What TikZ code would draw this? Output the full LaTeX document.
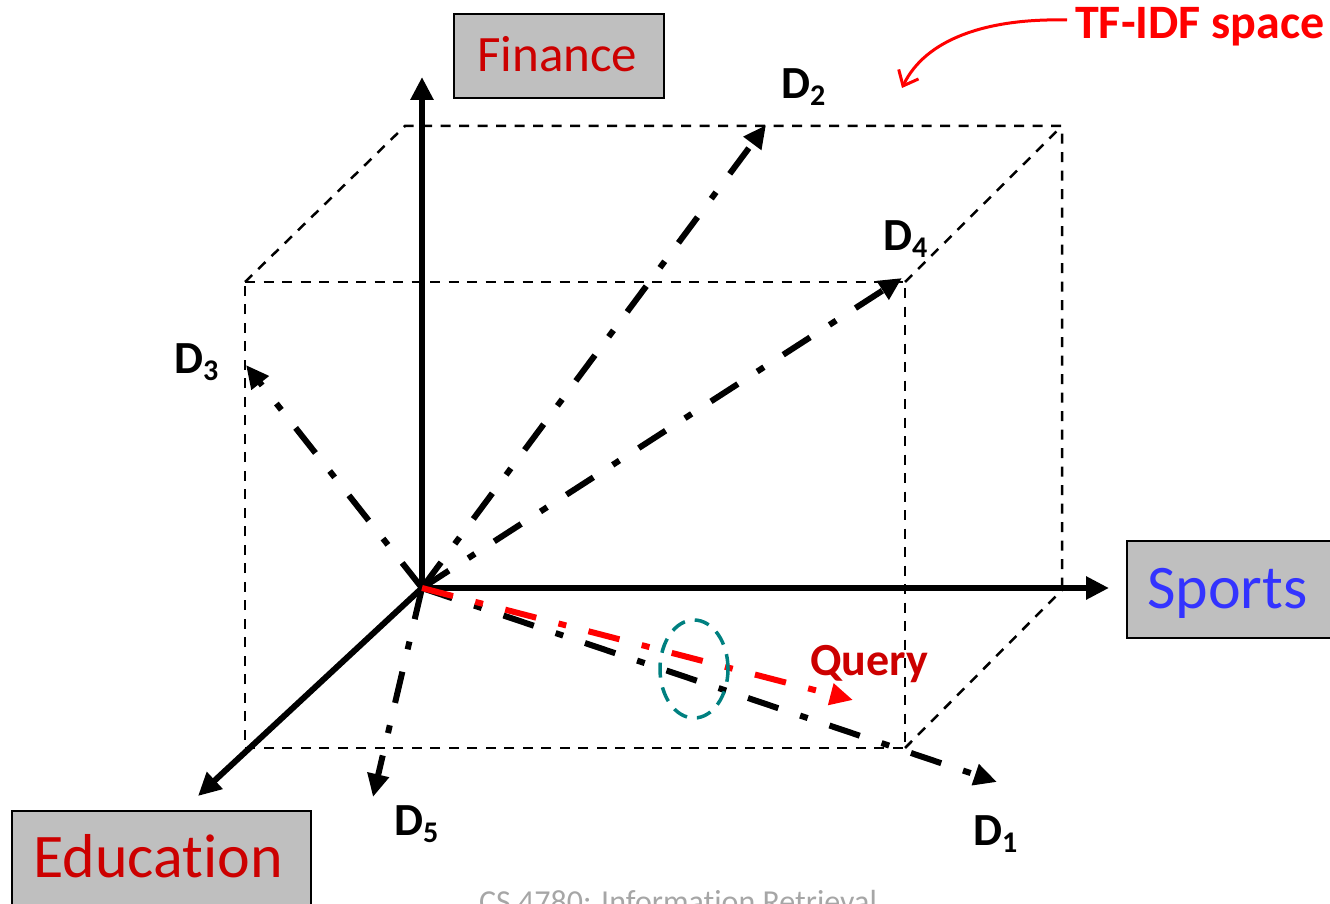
\documentclass[tikz,border=0pt]{standalone}
\usepackage{fontspec}
\setmainfont{Carlito}[Ligatures=NoCommon]
\usetikzlibrary{arrows.meta}
\definecolor{darkred}{RGB}{204,0,0}
\definecolor{tfred}{RGB}{255,0,0}
\definecolor{sportsblue}{RGB}{51,51,255}
\definecolor{boxgray}{RGB}{191,191,191}
\definecolor{footgray}{RGB}{166,166,166}
\definecolor{ellteal}{RGB}{0,128,128}
\newcommand\dlab[1]{D\raisebox{-7pt}{\fontsize{30}{30}\selectfont #1}}
\begin{document}
\begin{tikzpicture}[x=1pt,y=-1pt,
  boxedge/.style={black, line width=2.5pt, dash pattern=on 10pt off 8.5pt},
  axis/.style={line width=6pt, -{Triangle[length=23pt,width=22pt]}},
  vec/.style={line width=6pt, dash pattern=on 32pt off 23pt on 8pt off 23pt, -{Triangle[length=23pt,width=21pt]}},
  catbox/.style={draw=black, line width=2pt, fill=boxgray, inner sep=0pt, anchor=north west},
  txt/.style={inner sep=0pt, anchor=base west},
  dtxt/.style={txt, font=\bfseries\fontsize{46}{46}\selectfont}
]
\useasboundingbox (0,0) rectangle (1330,904);
\clip (0,0) rectangle (1330,904);

% dashed box corners
\coordinate (A) at (245,282);
\coordinate (B) at (905,282);
\coordinate (C) at (905,748);
\coordinate (Dd) at (245,748);
\coordinate (E) at (405,126);
\coordinate (F) at (1062,126);
\coordinate (G) at (1062,590);
\draw[boxedge] (A) -- (B) -- (C) -- (Dd) -- cycle;
\draw[boxedge] (A) -- (E) -- (F) -- (G);
\draw[boxedge] (B) -- (F);
\draw[boxedge] (C) -- (G);

% category boxes
\node[catbox, minimum width=210pt, minimum height=84pt] (finbox) at (453,13) {};
\node[catbox, minimum width=220pt, minimum height=97pt] (spobox) at (1126,540) {};
\node[catbox, minimum width=299pt, minimum height=120pt] (edubox) at (11,810) {};
\node[txt, text=darkred, font=\fontsize{51}{51}\selectfont] (fin) at (477,72) {Finance};
\node[txt, text=sportsblue, font=\fontsize{62}{62}\selectfont] (spo) at (1147,608) {Sports};
\node[txt, text=darkred, font=\fontsize{62}{62}\selectfont] (edu) at (33,877) {Education};

% origin and tips
\coordinate (O) at (422,588);
\coordinate (finT) at (422,77);
\coordinate (spoT) at (1109,588);
\coordinate (eduT) at (198,796);
\coordinate (t1) at (997,782);
\coordinate (t2) at (766,125);
\coordinate (t3) at (246,365);
\coordinate (t4) at (902,278);
\coordinate (t5) at (373,797);
\coordinate (tq) at (853,700);

% axes
\draw[axis] (O) -- (finT);
\draw[axis] (O) -- (spoT);
\draw[axis] (O) -- (eduT);

% document vectors
\draw[vec] (O) -- (t1);
\draw[vec] (O) -- (t2);
\draw[vec] (O) -- (t3);
\draw[vec] (O) -- (t4);
\draw[vec] (O) -- (t5);
\draw[vec, tfred] (O) -- (tq);

% ellipse
\draw[ellteal, line width=3.5pt, dash pattern=on 15pt off 10pt] (694,669) ellipse [x radius=34pt, y radius=49pt];

% labels
\node[dtxt] (d1) at (973,845) {\dlab{1}};
\node[dtxt] (d2) at (781,99) {\dlab{2}};
\node[dtxt] (d3) at (174,373) {\dlab{3}};
\node[dtxt] (d4) at (883,250) {\dlab{4}};
\node[dtxt] (d5) at (394,835) {\dlab{5}};
\node[dtxt, text=darkred, font=\bfseries\fontsize{46}{46}\selectfont] (query) at (810,675) {Query};

% TF-IDF label and curved arrow
\node[txt, text=tfred, font=\bfseries\fontsize{48}{48}\selectfont] (tfidf) at (1075,39) {TF-IDF space};
\coordinate (tfs) at (1067,20);
\coordinate (tft) at (902,88);
\draw[tfred, line width=3pt, -{Straight Barb[length=13pt,width=22pt]}] (tfs) .. controls (985,18) and (925,40) .. (tft);

% footer
\node[inner sep=0pt, anchor=base, text=footgray, font=\fontsize{32}{32}\selectfont] (footer) at (678,912) {CS 4780: Information Retrieval};
\end{tikzpicture}
\end{document}
